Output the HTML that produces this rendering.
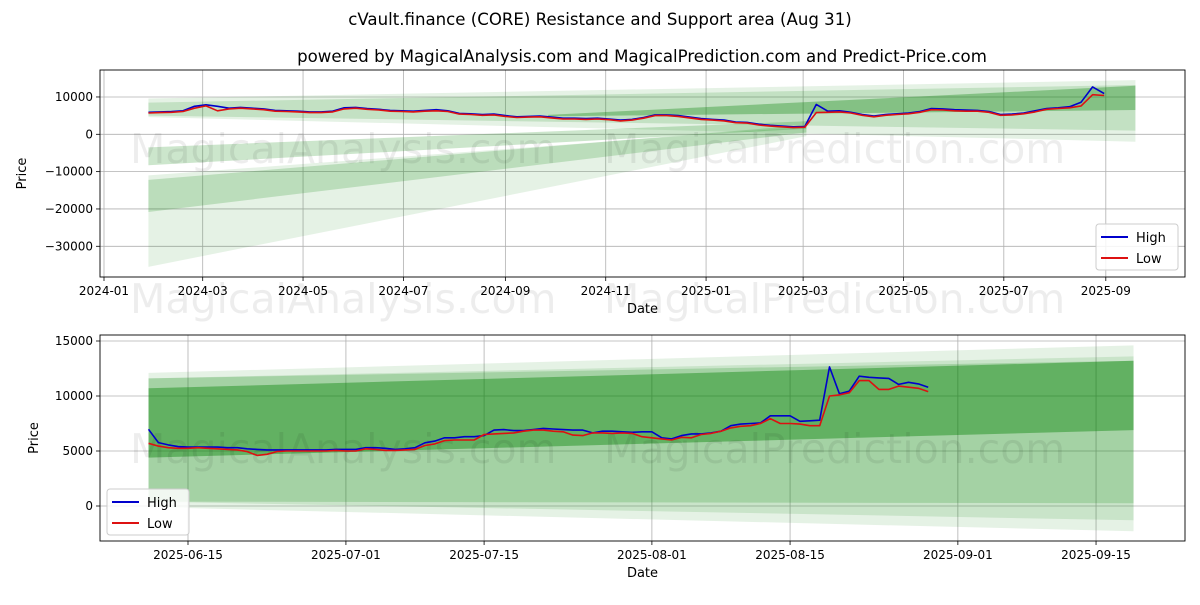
<!DOCTYPE html>
<html><head><meta charset="utf-8">
<style>
body{margin:0;background:#fff;font-family:"Liberation Sans","DejaVu Sans",sans-serif;}
svg text{font-family:"DejaVu Sans","Liberation Sans",sans-serif;}
</style></head>
<body>
<svg id="c" width="1200" height="600" xmlns="http://www.w3.org/2000/svg">
<rect width="1200" height="600" fill="#fff"/>
<text x="600" y="25" text-anchor="middle" font-size="16.6">cVault.finance (CORE) Resistance and Support area (Aug 31)</text>
<text x="642" y="62" text-anchor="middle" font-size="16.6">powered by MagicalAnalysis.com and MagicalPrediction.com and Predict-Price.com</text>
<g id="top"></g>
<g id="bot"></g>
</svg>
<script>
// ---- top chart data (weekly, starting 2024-01-28, day index 27 from 2024-01-01) ----
const topStartDay = 27;
const topStepDays = 7;
const topHigh = [5900,6000,6100,6300,7500,7900,7500,7000,7200,7000,6800,6400,6300,6200,6000,6000,6200,7100,7200,6900,6700,6400,6300,6200,6400,6600,6300,5600,5500,5300,5400,5000,4700,4800,4900,4600,4300,4300,4200,4300,4100,3800,4000,4500,5200,5200,5000,4600,4200,4000,3800,3300,3200,2700,2400,2200,2000,2100,8000,6200,6300,5900,5300,4900,5300,5500,5700,6100,6900,6800,6600,6500,6400,6100,5300,5400,5700,6300,6900,7100,7400,8600,12700,10900];
const topLow  = [5700,5800,5900,6100,7000,7600,6300,6800,7000,6800,6600,6200,6100,6000,5800,5800,6000,6800,7000,6700,6500,6200,6100,6000,6200,6300,6100,5400,5300,5100,5200,4800,4500,4600,4700,4400,4100,4100,4000,4100,3900,3600,3800,4300,5000,5000,4800,4400,4000,3800,3600,3100,3000,2500,2200,2000,1800,1900,5800,5900,6000,5700,5100,4700,5100,5300,5500,5900,6600,6500,6300,6200,6200,5900,5100,5200,5500,6000,6700,6900,7100,7600,10600,10400];
const topTickDays = [0,60,121,182,244,305,366,425,486,547,609];
const topTickLabels = ["2024-01","2024-03","2024-05","2024-07","2024-09","2024-11","2025-01","2025-03","2025-05","2025-07","2025-09"];
const topYTicks = [10000,0,-10000,-20000,-30000];
const topBandStartDay = [27,27,270,27,27,27];
const topBandStartTop = [9600,8500,5200,-3500,-12200,-11000];
const topBandStartBot = [4600,5000,4800,-8300,-20800,-35500];
const topBandEndTop   = [14500,13200,13000,3500,2500,2000];
const topBandEndBot   = [-2000,1000,6500,1500,500,-500];
const topBandEndDay   = [627,627,627,427,427,427];
const topBandAlpha    = [0.1,0.15,0.32,0.2,0.18,0.1];

// ---- bottom chart data (daily, starting 2025-06-11) ----
const botHigh = [6970,5760,5550,5400,5350,5350,5350,5350,5300,5300,5200,5150,5100,5100,5100,5100,5100,5100,5100,5150,5150,5150,5300,5300,5250,5150,5200,5300,5750,5900,6200,6200,6300,6300,6400,6900,6950,6850,6850,6950,7050,7000,6950,6900,6900,6650,6800,6800,6750,6700,6750,6750,6200,6100,6400,6550,6550,6650,6800,7300,7450,7500,7550,8200,8200,8200,7700,7750,7800,12650,10200,10450,11800,11700,11650,11600,11050,11250,11100,10800];
const botLow  = [5700,5450,5300,5250,5250,5300,5250,5200,5150,5100,4950,4600,4700,4950,5000,5000,5000,5000,5000,5050,5000,5000,5200,5150,5050,5050,5100,5150,5500,5650,5950,6000,6000,6000,6500,6550,6600,6650,6800,6900,6900,6800,6750,6450,6400,6650,6650,6600,6650,6600,6300,6200,6100,6000,6250,6200,6500,6600,6800,7100,7250,7300,7500,7950,7500,7500,7450,7300,7300,10000,10100,10300,11400,11400,10600,10600,10900,10800,10700,10400];
const botTickDays = [4,20,34,51,65,82,96];
const botTickLabels = ["2025-06-15","2025-07-01","2025-07-15","2025-08-01","2025-08-15","2025-09-01","2025-09-15"];
const botYTicks = [15000,10000,5000,0];
const botBandStartTop = [12100,11600,11600,10700];
const botBandStartBot = [-100,400,400,4400];
const botBandEndTop   = [14600,13600,13200,13200];
const botBandEndBot   = [-2300,-1300,250,6900];
const botBandAlpha    = [0.1,0.12,0.18,0.4];

const NS="http://www.w3.org/2000/svg";
function mk(parent,tag,attrs,txt){const e=document.createElementNS(NS,tag);for(const k in attrs)e.setAttribute(k,attrs[k]);if(txt!==undefined)e.textContent=txt;parent.appendChild(e);return e;}

function panel(g,cfg){
  const {x0,x1,y0,y1,xf,yf}=cfg;
  cfg.xt.forEach((d,i)=>{const x=xf(d);
    const l=mk(g,'line',{x1:x,x2:x,y1:y0,y2:y1,stroke:'#b0b0b0','stroke-width':0.8});
    
    
    mk(g,'line',{x1:x,x2:x,y1:y1,y2:y1+4,stroke:'#000','stroke-width':0.8});
    const t=mk(g,'text',{x:x,y:y1+18,'text-anchor':'middle','font-size':12},cfg.xl[i]);
    
    
  });
  cfg.yt.forEach(v=>{const y=yf(v);
    const l=mk(g,'line',{x1:x0,x2:x1,y1:y,y2:y,stroke:'#b0b0b0','stroke-width':0.8});
    
    
    mk(g,'line',{x1:x0-4,x2:x0,y1:y,y2:y,stroke:'#000','stroke-width':0.8});
    const t=mk(g,'text',{x:x0-7,y:y+4,'text-anchor':'end','font-size':12},String(v).replace('-','\u2212'));
    
    
  });
  cfg.bands.forEach(b=>{
    const p=mk(g,'polygon',{points:`${xf(b.sd)},${yf(b.st)} ${xf(b.ed)},${yf(b.et)} ${xf(b.ed)},${yf(b.eb)} ${xf(b.sd)},${yf(b.sb)}`,fill:'#008000','fill-opacity':b.a});
    
    
  });
  [[cfg.wy,'MagicalAnalysis.com',130],[cfg.wy,'MagicalPrediction.com',604]].forEach(w=>{
    const t=mk(g,'text',{x:w[2],y:w[0],'font-size':41,fill:'#000','fill-opacity':0.07},w[1]);
    
    
  });
  [[cfg.hi,'#0000cc','high-line'],[cfg.lo,'#dd1111','low-line']].forEach(s=>{
    const pts=s[0].map((v,i)=>`${xf(cfg.sd+i*cfg.step).toFixed(1)},${yf(v).toFixed(1)}`).join(' ');
    const p=mk(g,'polyline',{points:pts,fill:'none',stroke:s[1],'stroke-width':1.6,'stroke-linejoin':'round'});
    
    
  });
  const f=mk(g,'rect',{x:x0,y:y0,width:x1-x0,height:y1-y0,fill:'none',stroke:'#000','stroke-width':0.9});
  
  
  const xl=mk(g,'text',{x:(x0+x1)/2,y:y1+36,'text-anchor':'middle','font-size':13},'Date');
  
  
  const yl=mk(g,'text',{x:0,y:0,'text-anchor':'middle','font-size':13,transform:`translate(${cfg.ylx},${(y0+y1)/2}) rotate(-90)`},'Price');
  
  
  const lg=mk(g,'g',{});
  
  
  const [lx,ly]=cfg.leg;
  mk(lg,'rect',{x:lx,y:ly,width:82,height:46,rx:3,fill:'#fff','fill-opacity':0.85,stroke:'#ccc'});
  [['High','#0000cc',ly+13],['Low','#dd1111',ly+34]].forEach(e=>{
    const eg=mk(lg,'g',{});
    
    
    mk(eg,'line',{x1:lx+5,x2:lx+32,y1:e[2],y2:e[2],stroke:e[1],'stroke-width':2});
    mk(eg,'text',{x:lx+40,y:e[2]+5,'font-size':13},e[0]);
  });
}

panel(document.getElementById('top'),{
  x0:100,x1:1185,y0:70,y1:277,
  xf:d=>104+d*1.645, yf:v=>134.3-v*0.003733,
  xt:topTickDays,xl:topTickLabels,yt:topYTicks,
  bands:topBandStartTop.map((st,i)=>({sd:topBandStartDay[i],ed:topBandEndDay[i],st:st,sb:topBandStartBot[i],et:topBandEndTop[i],eb:topBandEndBot[i],a:topBandAlpha[i]})),
  hi:topHigh,lo:topLow,sd:topStartDay,step:topStepDays,
  wy:163,ylx:26,leg:[1096,224]
});
panel(document.getElementById('bot'),{
  x0:100,x1:1185,y0:335,y1:541,
  xf:d=>188+(d-4)*9.87, yf:v=>506-v*0.011,
  xt:botTickDays,xl:botTickLabels,yt:botYTicks,
  bands:botBandStartTop.map((st,i)=>({sd:0,ed:99.8,st:st,sb:botBandStartBot[i],et:botBandEndTop[i],eb:botBandEndBot[i],a:botBandAlpha[i]})),
  hi:botHigh,lo:botLow,sd:0,step:1,
  wy:463,ylx:38,leg:[107,489]
});
const svg=document.getElementById('c');
[['MagicalAnalysis.com',130],['MagicalPrediction.com',604]].forEach(w=>{
  const t=mk(svg,'text',{x:w[1],y:313,'font-size':41,fill:'#000','fill-opacity':0.07},w[0]);
  
  
});
</script>
</body></html>
